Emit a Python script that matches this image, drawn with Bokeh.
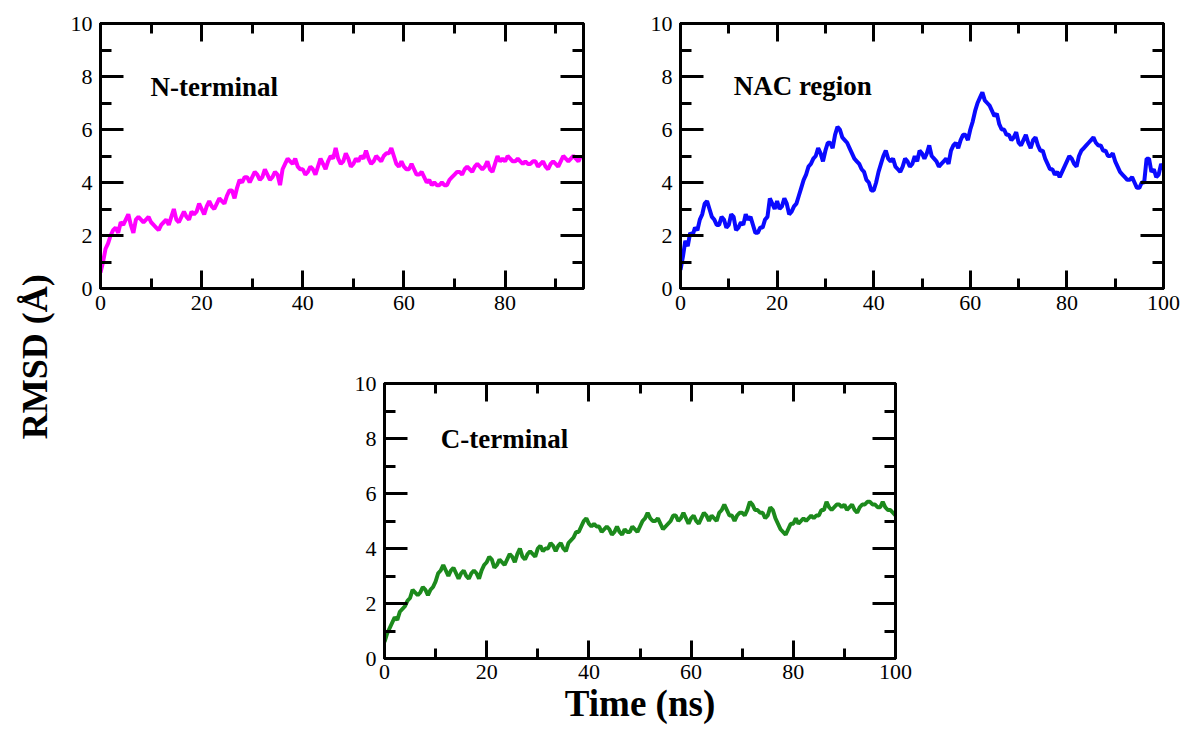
import numpy as np
from bokeh.plotting import figure
from bokeh.models import Label, LinearAxis, SingleIntervalTicker, Range1d
from bokeh.layouts import row, column
from bokeh.embed import file_html
from bokeh.resources import INLINE

# ---------------- data (RMSD in Angstrom, sampled every 0.5 ns) ----------------
step_ns = 0.5

n_terminal = [
    0.6, 1.0, 1.5, 1.7, 2.0, 2.2, 2.3, 2.1, 2.5, 2.4, 2.6, 2.8, 2.4, 2.1, 2.6, 2.7, 2.6, 2.5, 2.6, 2.7,
    2.5, 2.4, 2.3, 2.2, 2.4, 2.5, 2.6, 2.4, 2.7, 3.0, 2.6, 2.5, 2.7, 2.9, 2.7, 2.6, 2.9, 2.8, 2.9, 3.2,
    3.0, 2.8, 3.1, 3.3, 3.1, 3.0, 3.2, 3.4, 3.3, 3.2, 3.5, 3.7, 3.7, 3.4, 3.8, 4.1, 4.0, 4.2, 4.2, 4.0,
    4.2, 4.4, 4.3, 4.1, 4.2, 4.5, 4.3, 4.1, 4.2, 4.4, 4.3, 3.9, 4.5, 4.7, 4.9, 4.8, 4.7, 4.9, 4.6, 4.5,
    4.5, 4.3, 4.4, 4.6, 4.5, 4.3, 4.6, 4.9, 4.7, 4.5, 4.8, 5.0, 4.9, 5.3, 4.9, 4.7, 4.8, 5.1, 4.9, 4.6,
    4.7, 4.9, 4.8, 5.0, 4.9, 5.2, 4.9, 4.7, 4.8, 5.0, 4.9, 4.8, 5.0, 5.1, 5.1, 5.3, 5.0, 4.7, 4.6, 4.8,
    4.6, 4.5, 4.5, 4.7, 4.5, 4.3, 4.3, 4.4, 4.2, 4.0, 4.1, 3.9, 4.0, 3.9, 3.9, 4.0, 3.9, 3.9, 4.1, 4.2,
    4.3, 4.4, 4.4, 4.3, 4.5, 4.6, 4.5, 4.4, 4.6, 4.7, 4.6, 4.5, 4.6, 4.8, 4.5, 4.4, 4.7, 5.0, 4.8, 4.9,
    4.8, 5.0, 4.9, 4.8, 4.8, 4.9, 4.8, 4.7, 4.8, 4.7, 4.7, 4.8, 4.8, 4.6, 4.7, 4.8, 4.6, 4.5, 4.7, 4.8,
    4.7, 4.6, 4.8, 5.0, 4.9, 4.8, 4.9, 5.0, 4.9, 4.8, 5.0,
]

nac_region = [
    0.7, 1.2, 1.8, 1.6, 2.1, 2.0, 2.3, 2.2, 2.6, 2.8, 3.2, 3.3, 3.0, 2.7, 2.6, 2.4, 2.4, 2.7, 2.6, 2.3,
    2.4, 2.8, 2.7, 2.2, 2.3, 2.5, 2.4, 2.8, 2.6, 2.7, 2.4, 2.1, 2.1, 2.3, 2.3, 2.6, 2.7, 3.4, 3.2, 3.0,
    3.3, 3.0, 3.1, 3.4, 3.2, 2.8, 2.9, 3.1, 3.2, 3.5, 3.8, 4.1, 4.3, 4.6, 4.7, 4.9, 5.0, 5.3, 5.1, 4.8,
    5.2, 5.5, 5.5, 5.3, 5.8, 6.1, 6.0, 5.7, 5.6, 5.5, 5.3, 5.1, 4.9, 4.8, 4.7, 4.5, 4.4, 4.1, 4.0, 3.7,
    3.7, 4.0, 4.4, 4.7, 5.0, 5.2, 4.9, 4.8, 4.9, 4.6, 4.5, 4.4, 4.6, 4.9, 4.8, 4.6, 4.7, 5.0, 4.8, 5.2,
    5.1, 4.9, 5.1, 5.4, 5.0, 4.9, 4.8, 4.6, 4.7, 4.8, 4.9, 4.7, 5.2, 5.4, 5.5, 5.3, 5.6, 5.8, 5.8, 5.6,
    6.0, 6.3, 6.7, 7.0, 7.2, 7.4, 7.1, 7.0, 6.9, 6.7, 6.5, 6.6, 6.2, 6.0, 6.0, 5.8, 5.8, 5.6, 5.7, 5.9,
    5.5, 5.4, 5.6, 5.8, 5.5, 5.3, 5.6, 5.7, 5.4, 5.2, 5.2, 4.9, 4.7, 4.5, 4.5, 4.3, 4.4, 4.2, 4.4, 4.6,
    4.8, 5.0, 4.9, 4.7, 4.6, 5.0, 5.2, 5.3, 5.4, 5.5, 5.6, 5.7, 5.5, 5.4, 5.4, 5.2, 5.2, 5.0, 5.0, 5.1,
    4.8, 4.6, 4.4, 4.3, 4.2, 4.1, 4.1, 4.2, 4.0, 3.8, 3.8, 4.0, 4.0, 4.9, 4.9, 4.4, 4.5, 4.2, 4.3, 4.7,
    4.5,
]

c_terminal = [
    0.6, 0.9, 1.1, 1.3, 1.5, 1.4, 1.7, 1.8, 1.9, 2.1, 2.2, 2.5, 2.4, 2.3, 2.4, 2.6, 2.5, 2.3, 2.5, 2.6,
    2.8, 3.1, 3.2, 3.4, 3.2, 3.0, 3.2, 3.3, 3.1, 2.9, 3.1, 3.2, 3.0, 2.9, 3.1, 3.2, 3.1, 2.9, 3.2, 3.4,
    3.5, 3.7, 3.6, 3.3, 3.4, 3.6, 3.5, 3.4, 3.6, 3.8, 3.7, 3.5, 3.8, 4.0, 3.7, 3.6, 3.8, 3.9, 3.8, 3.7,
    4.0, 4.1, 3.9, 4.0, 4.0, 4.2, 4.1, 3.9, 4.1, 4.2, 4.0, 3.9, 4.2, 4.3, 4.4, 4.6, 4.6, 4.8, 5.0, 5.1,
    4.9, 4.8, 4.9, 4.8, 4.8, 4.6, 4.7, 4.8, 4.7, 4.5, 4.6, 4.8, 4.6, 4.5, 4.7, 4.6, 4.6, 4.8, 4.7, 4.6,
    4.8, 5.0, 5.1, 5.3, 5.1, 5.0, 5.0, 5.1, 4.9, 4.7, 4.8, 4.9, 5.0, 5.2, 5.2, 5.0, 5.1, 5.3, 5.1, 4.9,
    5.1, 5.2, 5.0, 4.9, 5.1, 5.3, 5.2, 5.0, 5.2, 5.1, 5.0, 5.3, 5.4, 5.6, 5.4, 5.2, 5.2, 5.0, 5.2, 5.3,
    5.3, 5.2, 5.4, 5.7, 5.6, 5.4, 5.4, 5.3, 5.3, 5.1, 5.2, 5.5, 5.4, 5.1, 4.9, 4.7, 4.6, 4.5, 4.7, 4.9,
    4.9, 5.1, 4.9, 5.0, 5.1, 5.0, 5.1, 5.2, 5.1, 5.2, 5.2, 5.4, 5.4, 5.7, 5.5, 5.4, 5.5, 5.6, 5.6, 5.5,
    5.6, 5.4, 5.5, 5.6, 5.4, 5.3, 5.5, 5.6, 5.6, 5.7, 5.7, 5.6, 5.6, 5.5, 5.5, 5.7, 5.5, 5.4, 5.4, 5.3,
    5.2,
]

panel_titles = ["N-terminal", "NAC region", "C-terminal"]
x_label = "Time (ns)"
y_label = "RMSD (Å)"

SERIF = "Liberation Serif"


def times_for(vals):
    return np.arange(len(vals)) * step_ns


def style_axis(ax, is_x, show_labels):
    ax.ticker = SingleIntervalTicker(interval=20 if is_x else 2, num_minor_ticks=2)
    ax.axis_line_width = 3
    ax.axis_line_color = "black"
    ax.major_tick_line_width = 3
    ax.minor_tick_line_width = 3
    ax.major_tick_line_color = "black"
    ax.minor_tick_line_color = "black"
    ax.major_tick_out = 0
    ax.minor_tick_out = 0
    ax.major_tick_in = 18 if is_x else 23
    ax.minor_tick_in = 10 if is_x else 11
    if show_labels:
        ax.major_label_text_font = SERIF
        ax.major_label_text_font_size = "22px"
        ax.major_label_text_color = "black"
        ax.major_label_standoff = 7 if is_x else 8
    else:
        ax.major_label_text_font_size = "8px"
        ax.major_label_text_color = None
        ax.major_label_standoff = 0


def make_panel(vals, color, title, tx, ty, xmax, fw, fh, bl, br, bt, bb):
    p = figure(frame_width=fw, frame_height=fh,
               x_range=Range1d(0, xmax), y_range=Range1d(0, 10),
               min_border_left=bl, min_border_right=br,
               min_border_top=bt, min_border_bottom=bb,
               output_backend="svg", toolbar_location=None)
    p.grid.visible = False
    p.outline_line_color = "black"
    p.outline_line_width = 3
    p.background_fill_color = "white"
    p.border_fill_color = "white"
    p.add_layout(LinearAxis(), "above")
    p.add_layout(LinearAxis(), "right")
    for ax in p.below:
        style_axis(ax, True, True)
    for ax in p.above:
        style_axis(ax, True, False)
    for ax in p.left:
        style_axis(ax, False, True)
    for ax in p.right:
        style_axis(ax, False, False)
    p.line(times_for(vals), vals, line_color=color, line_width=4)
    p.add_layout(Label(x=tx, y=ty, text=title, text_font=SERIF, text_font_style="bold",
                       text_font_size="27px", text_color="black",
                       text_align="left", text_baseline="alphabetic"))
    return p


p1 = make_panel(n_terminal, "#ff00ff", panel_titles[0], 9.9, 7.6, 95.5,
                483, 265, 42, 37, 23, 42)
p2 = make_panel(nac_region, "#0a0aff", panel_titles[1], 11.0, 7.65, 100,
                483, 265, 60, 21, 23, 42)
p3 = make_panel(c_terminal, "#1c8a1c", panel_titles[2], 11.0, 8.0, 100,
                511, 275, 326, 30, 53, 75)
xa = p3.below[0]
xa.axis_label = x_label
xa.axis_label_text_font = SERIF
xa.axis_label_text_font_style = "bold"
xa.axis_label_text_font_size = "37px"
xa.axis_label_text_color = "black"
xa.axis_label_standoff = 1
xa.major_label_standoff = 6

lab = figure(frame_width=58, frame_height=733, x_range=Range1d(0, 1), y_range=Range1d(0, 1),
             x_axis_type=None, y_axis_type=None, min_border=0,
             output_backend="svg", toolbar_location=None)
lab.grid.visible = False
lab.outline_line_color = None
lab.add_layout(Label(x=0.6, y=0.514, text=y_label, angle=90, angle_units="deg",
                     text_font=SERIF, text_font_style="bold", text_font_size="36px",
                     text_color="black", text_align="center", text_baseline="middle"))

layout = row(lab, column(row(p1, p2), p3))

open("out.html", "w").write(file_html(layout, INLINE))
